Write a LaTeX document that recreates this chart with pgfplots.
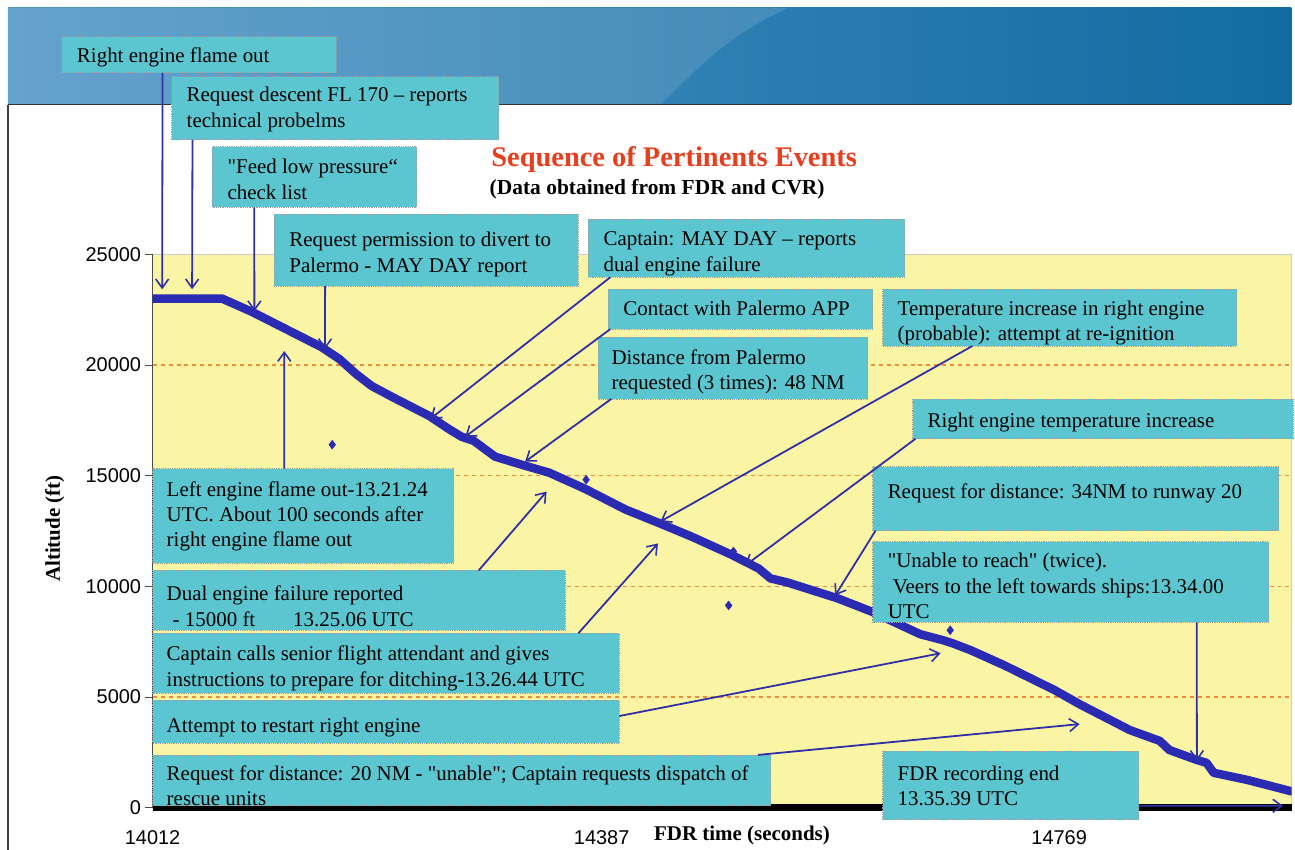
\documentclass[border=0pt]{standalone}
\usepackage{fontspec}
\setmainfont{Liberation Serif}[Ligatures=TeXOff]
\newfontfamily\arialf{Liberation Sans}
\usepackage{pgfplots}
\usepackage{pgfplotstable}
\pgfplotsset{compat=1.18}
\usetikzlibrary{arrows.meta}

\definecolor{plotyellow}{RGB}{250,245,165}
\definecolor{boxteal}{RGB}{92,198,208}
\definecolor{fdrblue}{RGB}{42,42,178}
\definecolor{arrowblue}{RGB}{48,48,165}
\definecolor{gridorange}{RGB}{240,140,60}
\definecolor{titlered}{RGB}{232,62,30}
\definecolor{bandleft}{RGB}{80,150,198}
\definecolor{bandright}{RGB}{18,108,162}

% FDR altitude trace (time in s, altitude in ft)
\pgfplotstableread{
t alt
14012 23000
14070 23000
14095 22400
14126 21550
14153 20810
14158 20630
14168 20270
14182 19590
14195 19050
14212 18560
14243 17700
14259 17120
14270 16760
14280 16580
14298 15860
14323 15450
14343 15140
14373 14410
14407 13470
14434 12880
14462 12250
14495 11440
14518 10810
14528 10360
14542 10180
14584 9460
14612 8870
14653 7840
14672 7570
14680 7430
14695 7120
14723 6440
14765 5320
14786 4680
14828 3510
14853 3020
14861 2610
14884 2160
14892 2030
14898 1580
14926 1260
14961 770
14963 740
}\fdrtable

% isolated spurious samples
\pgfplotstableread{
t alt
14162 16400
14374 14820
14497 11580
14493 9140
14678 8020
}\spikes

% box: x1 y1 x2 y2 textx texty text  (picture pixels, y downwards)
\newcommand\abox[7]{%
  \draw[box] (#1,#2) rectangle (#3,#4);
  \node[boxtext] at (#5,#6) {#7};}

\begin{document}
\begin{tikzpicture}

\begin{axis}[at={(153pt,42pt)}, anchor=south west, scale only axis,
  width=1142pt, height=555pt,
  xmin=14012, xmax=14963, ymin=0, ymax=25000,
  scaled x ticks=false, scaled y ticks=false,
  axis background/.style={fill=plotyellow, draw=gray!40},
  axis x line*=bottom, axis y line*=left,
  x axis line style={-, black, line width=7pt},
  y axis line style={-, gray!60!black, line width=1pt},
  xtick={14012,14387,14769}, xticklabels={14012,14387,14769},
  major x tick style={draw=none},
  ytick={0,5000,...,25000},
  tick align=outside, major tick length=8pt,
  y tick style={gray!60!black, line width=1pt},
  yticklabel style={font=\arialf\fontsize{20}{20}\selectfont,
    /pgf/number format/assume math mode=true,
    /pgf/number format/fixed, /pgf/number format/1000 sep={}},
  xticklabel style={font=\arialf\fontsize{20}{20}\selectfont, yshift=-11pt},
  extra y ticks={5000,10000,15000,20000}, extra y tick labels={},
  extra y tick style={grid=major, major tick length=0pt},
  grid style={gridorange, dash pattern=on 4pt off 4pt, line width=1.2pt},
]
\addplot[fdrblue, line width=8.5pt, line join=round, line cap=round] table[x=t,y=alt]{\fdrtable};
\addplot[only marks, mark=diamond*, mark size=4.5pt, fdrblue] table[x=t,y=alt]{\spikes};

\coordinate (p1) at (axis cs:14020,23420);
\coordinate (p2) at (axis cs:14045,23420);
\coordinate (p3) at (axis cs:14097,22430);
\coordinate (p4) at (axis cs:14156,20720);
\coordinate (p5) at (axis cs:14244,17570);
\coordinate (p6) at (axis cs:14273,16760);
\coordinate (p7) at (axis cs:14323,15630);
\coordinate (p8) at (axis cs:14436,12930);
\coordinate (p9) at (axis cs:14507,10950);
\coordinate (p10) at (axis cs:14582,9590);
\coordinate (p11) at (axis cs:14884,2120);
\coordinate (p12) at (axis cs:14122,20630);
\coordinate (p13) at (axis cs:14341,14280);
\coordinate (p14) at (axis cs:14434,11940);
\coordinate (p15) at (axis cs:14670,6980);
\coordinate (p16) at (axis cs:14786,3780);
\coordinate (p17) at (axis cs:14956,90);
\end{axis}

\begin{scope}[x=1pt, y=-1pt, shift={(0pt,852pt)},
  box/.style={fill=boxteal, draw=gray!75, densely dotted, line width=0.8pt},
  ann/.style={arrowblue, line width=1.8pt, -{Straight Barb[length=9pt,width=13pt,line width=1.6pt]}},
  boxtext/.style={anchor=north west, inner sep=0pt, align=left, font=\fontsize{21}{25.5}\selectfont}]

\path[use as bounding box] (0,0) rectangle (1295,852);
\shade[left color=bandleft, right color=bandright] (8,8) rectangle (1295,105);
\fill[white, opacity=0.12] (8,8) -- (790,8) .. controls (720,40) and (690,80) .. (662,105) -- (8,105) -- cycle;
\draw[gray!40!black, line width=1.2pt] (8,105) -- (1295,105);
\draw[gray!50!black, line width=1.5pt] (8,105) -- (8,852);

\node[text=titlered, font=\bfseries\fontsize{28.5}{30}\selectfont] at (676,160) {Sequence of Pertinents Events};
\node[font=\bfseries\fontsize{21.5}{24}\selectfont] at (659,190) {(Data obtained from FDR and CVR)};

\node[rotate=90, font=\bfseries\fontsize{21}{24}\selectfont] at (55,530) {Altitude (ft)};
\node[font=\bfseries\fontsize{21}{24}\selectfont] at (744,838) {FDR time (seconds)};

% annotation boxes
\abox{62}{37}{337}{73}{77}{47.5}{Right engine flame out}
\abox{172}{77}{500}{140}{187}{87.5}{Request descent FL 170 – reports\\technical probelms}
\abox{213}{147}{418}{208}{228}{159.5}{"Feed low pressure“\\check list}
\abox{275}{215}{580}{287}{290}{232.5}{Request permission to divert to\\Palermo - MAY DAY report}
\abox{590}{220}{907}{278}{605}{232.5}{Captain: MAY DAY – reports\\dual engine failure}
\abox{610}{290}{875}{330}{625}{301.5}{Contact with Palermo APP}
\abox{600}{338}{870}{400}{613}{350.5}{Distance from Palermo\\requested (3 times): 48 NM}
\abox{885}{290}{1240}{347}{900}{301.5}{Temperature increase in right engine\\(probable): attempt at re-ignition}
\abox{915}{400}{1297}{440}{930}{413.5}{Right engine temperature increase}
\abox{875}{468}{1282}{532}{890}{484.5}{Request for distance: 34NM to runway 20}
\abox{875}{543}{1272}{624}{890}{554.5}{"Unable to reach" (twice).\\\hspace{5pt}Veers to the left towards ships:13.34.00\\UTC}
\abox{153}{470}{455}{565}{167}{482.5}{Left engine flame out-13.21.24\\UTC. About 100 seconds after\\right engine flame out}
\abox{153}{572}{567}{632}{167}{587.5}{Dual engine failure reported\\\hspace{6pt}- 15000 ft\hspace{38pt}13.25.06 UTC}
\abox{153}{635}{621}{695}{167}{647.5}{Captain calls senior flight attendant and gives\\instructions to prepare for ditching-13.26.44 UTC}
\abox{153}{702}{621}{745}{167}{719.5}{Attempt to restart right engine}
\abox{153}{757}{773}{808}{167}{767.5}{Request for distance: 20 NM - "unable"; Captain requests dispatch of\\rescue units}
\abox{885}{753}{1142}{822}{900}{767.5}{FDR recording end\\13.35.39 UTC}

% arrows from boxes to the trace
\draw[ann] (163,73) -- (p1);
\draw[ann] (193,140) -- (p2);
\draw[ann] (255,208) -- (p3);
\draw[ann] (326,287) -- (p4);
\draw[ann] (612,278) -- (p5);
\draw[ann] (612,330) -- (p6);
\draw[ann] (613,400) -- (p7);
\draw[ann] (975,347) -- (p8);
\draw[ann] (918,440) -- (p9);
\draw[ann] (878,532) -- (p10);
\draw[ann] (1200,624) -- (p11);
\draw[ann] (285,470) -- (p12);
\draw[ann] (480,572) -- (p13);
\draw[ann] (580,635) -- (p14);
\draw[ann] (621,718) -- (p15);
\draw[ann] (760,757) -- (p16);
\draw[ann] (1142,808) -- (p17);
\end{scope}
\end{tikzpicture}
\end{document}
